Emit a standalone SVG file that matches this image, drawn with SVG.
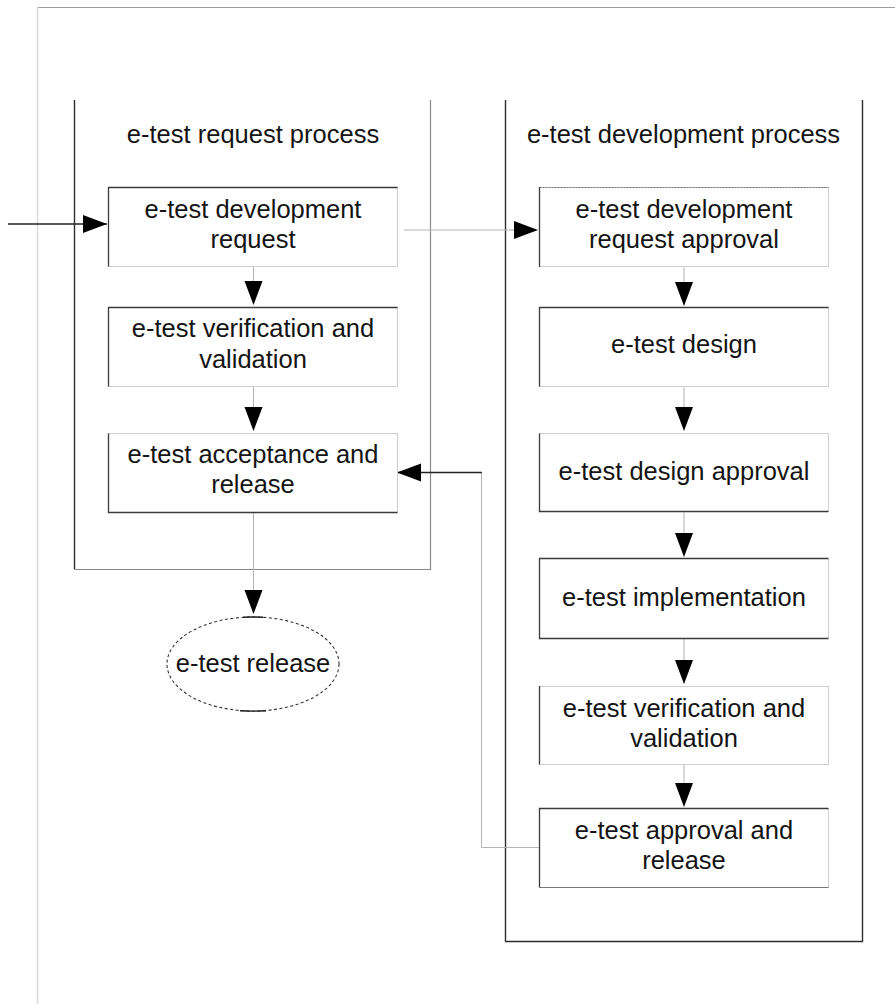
<svg xmlns="http://www.w3.org/2000/svg" width="895" height="1004" viewBox="0 0 895 1004">
  <style>
    .lbl { font-family: "Liberation Sans", Arial, sans-serif; font-size: 25.5px; fill: #141414; text-anchor: middle; }
    .box { fill: #ffffff; stroke: #cfcfcf; stroke-width: 1; }
    .edge { fill: none; stroke: #3a3a3a; stroke-width: 1.3; }
    .pool-dark { fill: none; stroke: #2e2e2e; stroke-width: 1.4; }
    .pool-light { fill: none; stroke: #8a8a8a; stroke-width: 1.2; }
    .wire { fill: none; stroke: #b4b4b4; stroke-width: 1; }
    .wire-dark { fill: none; stroke: #222; stroke-width: 1.3; }
  </style>
  <defs>
    <marker id="head" markerUnits="userSpaceOnUse" markerWidth="24" markerHeight="19" refX="24" refY="9.5" orient="auto">
      <path d="M0,0.5 L24,9.5 L0,18.5 Z" fill="#000"/>
    </marker>
  </defs>

  <rect x="0" y="0" width="895" height="1004" fill="#ffffff"/>

  <!-- page frame -->
  <g id="frame">
    <line x1="37" y1="7.5" x2="895" y2="7.5" stroke="#9a9a9a" stroke-width="1"/>
    <line x1="37.5" y1="7" x2="37.5" y2="1004" stroke="#ddd6da" stroke-width="1.6"/>
  </g>

  <!-- swimlane: request process -->
  <g id="pool-request">
    <line class="pool-dark" x1="74.5" y1="100" x2="74.5" y2="569"/>
    <polyline class="pool-light" points="74,569.5 430.5,569.5 430.5,100"/>
    <text class="lbl" x="253" y="143">e-test request process</text>
  </g>

  <!-- swimlane: development process -->
  <g id="pool-development">
    <polyline class="pool-dark" points="505.5,100 505.5,941.5 862.5,941.5 862.5,100"/>
    <text class="lbl" x="683.5" y="143">e-test development process</text>
  </g>

  <!-- connectors -->
  <g id="connectors">
    <line class="wire-dark" x1="8" y1="224" x2="107" y2="224" marker-end="url(#head)"/>
    <line class="wire" x1="404" y1="230" x2="517" y2="230"/>
    <line x1="510" y1="230" x2="538" y2="230" stroke="#222" stroke-width="0.1" marker-end="url(#head)"/>
    <!-- request column -->
    <line class="wire" x1="253.5" y1="266" x2="253.5" y2="285"/>
    <line x1="253.5" y1="280" x2="253.5" y2="305" stroke="#222" stroke-width="0.1" marker-end="url(#head)"/>
    <line class="wire" x1="253.5" y1="386" x2="253.5" y2="410"/>
    <line x1="253.5" y1="405" x2="253.5" y2="431" stroke="#222" stroke-width="0.1" marker-end="url(#head)"/>
    <line class="wire" x1="253.5" y1="512" x2="253.5" y2="595"/>
    <line x1="253.5" y1="590" x2="253.5" y2="614" stroke="#222" stroke-width="0.1" marker-end="url(#head)"/>
    <!-- development column -->
    <line class="wire" x1="684" y1="266" x2="684" y2="287"/>
    <line x1="684" y1="282" x2="684" y2="306" stroke="#222" stroke-width="0.1" marker-end="url(#head)"/>
    <line class="wire" x1="684" y1="386" x2="684" y2="410"/>
    <line x1="684" y1="405" x2="684" y2="431" stroke="#222" stroke-width="0.1" marker-end="url(#head)"/>
    <line class="wire" x1="684" y1="511" x2="684" y2="538"/>
    <line x1="684" y1="533" x2="684" y2="557" stroke="#222" stroke-width="0.1" marker-end="url(#head)"/>
    <line class="wire" x1="684" y1="639" x2="684" y2="664"/>
    <line x1="684" y1="659" x2="684" y2="684" stroke="#222" stroke-width="0.1" marker-end="url(#head)"/>
    <line class="wire" x1="684" y1="764" x2="684" y2="788"/>
    <line x1="684" y1="783" x2="684" y2="807" stroke="#222" stroke-width="0.1" marker-end="url(#head)"/>
    <!-- approval feeds back to acceptance -->
    <polyline class="wire" points="539,847.5 481.5,847.5 481.5,472.5"/>
    <line class="wire-dark" x1="482" y1="472.5" x2="397" y2="472.5" marker-end="url(#head)"/>
  </g>

  <!-- request process nodes -->
  <g id="node-dev-request">
    <rect class="box" x="108.5" y="187.5" width="289" height="79"/>
    <polyline class="edge" points="108.5,266.5 108.5,187.5 397.5,187.5"/>
    <text class="lbl" x="253" y="218">e-test development</text>
    <text class="lbl" x="253" y="248">request</text>
  </g>
  <g id="node-req-verification">
    <rect class="box" x="108.5" y="307.5" width="289" height="79"/>
    <polyline class="edge" points="108.5,386.5 108.5,307.5 397.5,307.5"/>
    <text class="lbl" x="253" y="337">e-test verification and</text>
    <text class="lbl" x="253" y="368">validation</text>
  </g>
  <g id="node-acceptance">
    <rect class="box" x="108.5" y="433.5" width="289" height="79"/>
    <polyline class="edge" points="108.5,433.5 108.5,512.5 397.5,512.5"/>
    <text class="lbl" x="253" y="463">e-test acceptance and</text>
    <text class="lbl" x="253" y="493">release</text>
  </g>
  <g id="node-release">
    <ellipse cx="253" cy="664" rx="86" ry="47" fill="#fff" stroke="#333" stroke-width="1.1" stroke-dasharray="3 2.5"/>
    <path d="M243,617.2 Q253,616.8 263,617.2" fill="none" stroke="#222" stroke-width="1.4"/>
    <path d="M240,710.8 Q253,711.4 266,710.8" fill="none" stroke="#222" stroke-width="1.4"/>
    <text class="lbl" x="253" y="672">e-test release</text>
  </g>

  <!-- development process nodes -->
  <g id="node-request-approval">
    <rect class="box" x="539.5" y="187.5" width="289" height="79"/>
    <line x1="539.5" y1="187.5" x2="828.5" y2="187.5" stroke="#777" stroke-width="1" stroke-dasharray="2 1"/>
    <line class="edge" x1="539.5" y1="187" x2="539.5" y2="267"/>
    <text class="lbl" x="684" y="218">e-test development</text>
    <text class="lbl" x="684" y="248">request approval</text>
  </g>
  <g id="node-design">
    <rect class="box" x="539.5" y="307.5" width="289" height="79"/>
    <polyline class="edge" points="539.5,386.5 539.5,307.5 828.5,307.5"/>
    <text class="lbl" x="684" y="353">e-test design</text>
  </g>
  <g id="node-design-approval">
    <rect class="box" x="539.5" y="433.5" width="289" height="78"/>
    <polyline class="edge" points="539.5,433.5 539.5,511.5 828.5,511.5"/>
    <text class="lbl" x="684" y="480">e-test design approval</text>
  </g>
  <g id="node-implementation">
    <rect class="box" x="539.5" y="558.5" width="289" height="80"/>
    <polyline class="edge" points="828.5,558.5 539.5,558.5 539.5,638.5 828.5,638.5"/>
    <text class="lbl" x="684" y="606">e-test implementation</text>
  </g>
  <g id="node-dev-verification">
    <rect class="box" x="539.5" y="686.5" width="289" height="78" stroke="#e2e2e2"/>
    <line class="edge" x1="539.5" y1="686" x2="539.5" y2="764.5"/>
    <text class="lbl" x="684" y="717">e-test verification and</text>
    <text class="lbl" x="684" y="747">validation</text>
  </g>
  <g id="node-approval-release">
    <rect class="box" x="539.5" y="808.5" width="289" height="79"/>
    <polyline class="edge" points="539.5,887.5 539.5,808.5 828.5,808.5"/>
    <line x1="539.5" y1="887.5" x2="828.5" y2="887.5" stroke="#777" stroke-width="1"/>
    <text class="lbl" x="684" y="839">e-test approval and</text>
    <text class="lbl" x="684" y="869">release</text>
  </g>
</svg>
